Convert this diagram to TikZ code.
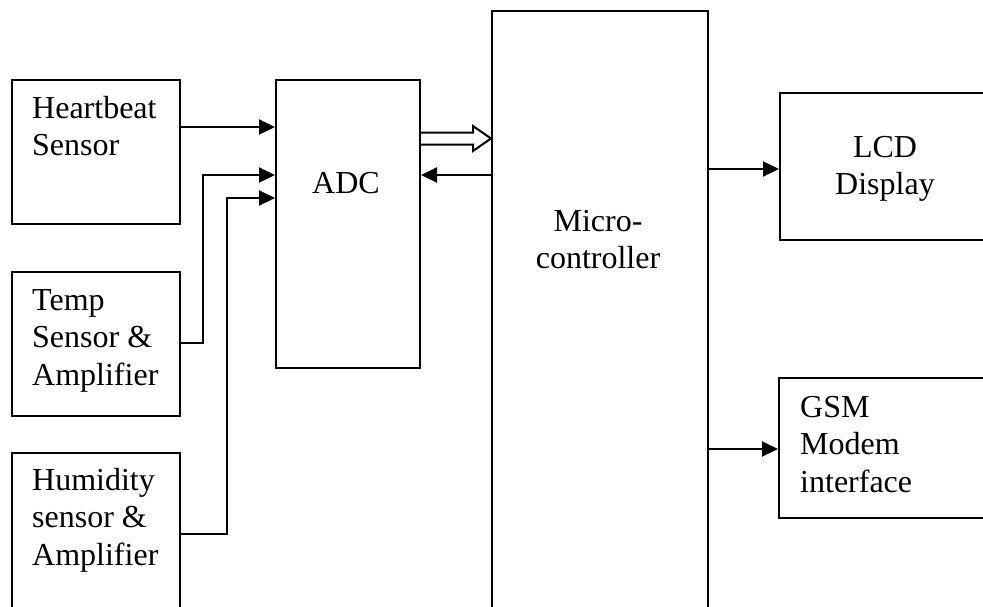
\documentclass[tikz,border=0pt]{standalone}
\usepackage{fontspec}
\setmainfont{Liberation Serif}
\usetikzlibrary{arrows.meta, positioning}

\tikzset{
  blk/.style={draw, line width=2pt, inner sep=0pt, anchor=north west},
  txt/.style={inner sep=0pt, font=\fontsize{32}{37.5}\selectfont},
  sig/.style={line width=2pt, -{Triangle[length=16pt,width=15pt]}},
}

\begin{document}
\begin{tikzpicture}[x=1pt, y=-1pt]
    \useasboundingbox (0,0) rectangle (983,606);
    \clip (0,0) rectangle (983,606);

    % 传感器方框
    \node[blk, minimum width=168pt, minimum height=144pt] (heart) at (11,79) {};
    \node[blk, minimum width=168pt, minimum height=144pt] (temp) at (11,271) {};
    \node[blk, minimum width=168pt, minimum height=170pt] (humid) at (11,452) {};

    % 其余方框
    \node[blk, minimum width=144pt, minimum height=288pt] (adc) at (275,79) {};
    \node[blk, minimum width=216pt, minimum height=610pt] (mcu) at (491,10) {};
    \node[blk, minimum width=215pt, minimum height=147pt] (lcd) at (779,92) {};
    \node[blk, minimum width=215pt, minimum height=140pt] (gsm) at (778,377) {};

    % 文字
    \node[txt, anchor=north west, align=left] (heart-txt) at (32,96) {Heartbeat\\Sensor};
    \node[txt, anchor=north west, align=left] (temp-txt) at (32,289) {Temp\\Sensor \&\\Amplifier};
    \node[txt, anchor=north west, align=left] (humid-txt) at (32,468) {Humidity\\sensor \&\\Amplifier};
    \node[txt, anchor=base] (adc-txt) at (346,193) {ADC};
    \node[txt, anchor=north, align=center] (mcu-txt) at (598,210) {Micro-\\controller};
    \node[txt, anchor=north, align=center] (lcd-txt) at (885,136) {LCD\\Display};
    \node[txt, anchor=north west, align=left] (gsm-txt) at (800,396) {GSM\\Modem\\interface};

    % 传感器到ADC
    \draw[sig] (heart.east |- 0,127) -- (adc.west |- 0,127);
    \draw[sig] (temp.east |- 0,343) -| (203,175) -- (adc.west |- 0,175);
    \draw[sig] (humid.east |- 0,534) -| (227,198) -- (adc.west |- 0,198);

    % ADC与单片机之间
    \draw[line width=2pt, fill=white, line join=miter]
        (adc.east |- 0,132.5) -- (473,132.5) -- (473,126) -- (mcu.west |- 0,138.5)
        -- (473,151) -- (473,144.5) -- (adc.east |- 0,144.5);
    \draw[sig] (mcu.west |- 0,175) -- (adc.east |- 0,175);

    % 输出
    \draw[sig] (mcu.east |- 0,169) -- (lcd.west |- 0,169);
    \draw[sig] (mcu.east |- 0,449) -- (gsm.west |- 0,449);
\end{tikzpicture}
\end{document}
